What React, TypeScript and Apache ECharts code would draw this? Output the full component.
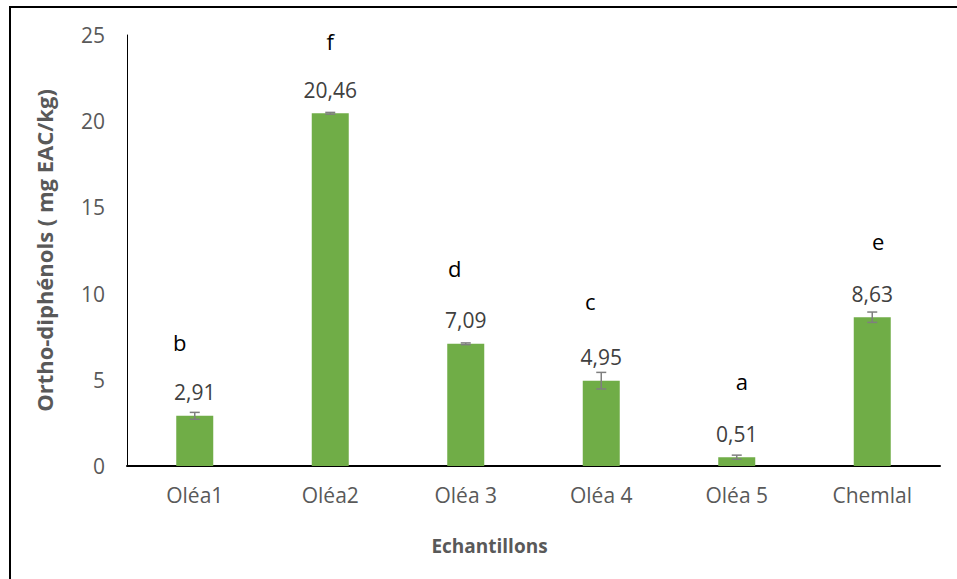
import React, { useEffect, useRef } from "react";
import * as echarts from "echarts";

// Ortho-diphenol content per olive-oil sample (mg EAC/kg)
const categories = ["Oléa1", "Oléa2", "Oléa 3", "Oléa 4", "Oléa 5", "Chemlal"];
const values = [2.91, 20.46, 7.09, 4.95, 0.51, 8.63];
const errors = [0.2, 0.05, 0.05, 0.48, 0.12, 0.3];
const groups = ["b", "f", "d", "c", "a", "e"];
const yTicks = { min: 0, max: 25, interval: 5 };

// hand-placed offsets of the group letters relative to each bar top (px)
const letterShift = [
  [-15, -74],
  [0, -72],
  [-11, -76],
  [-11, -80],
  [5, -76],
  [6, -76],
];

const FONT = "'Open Sans', 'Noto Sans', sans-serif";

export default function App() {
  const ref = useRef<HTMLDivElement>(null);

  useEffect(() => {
    if (!ref.current) return;
    const chart = echarts.init(ref.current, null, { renderer: "svg" });

    const errData = values.map((v, i) => [i, v, errors[i]]);

    chart.setOption({
      animation: false,
      backgroundColor: "#ffffff",
      textStyle: { fontFamily: FONT },
      grid: { left: 127, right: 17, top: 35, bottom: 113, containLabel: false },
      graphic: [
        {
          type: "rect",
          shape: { x: 10, y: 7, width: 980, height: 620 },
          style: { fill: "none", stroke: "#000000", lineWidth: 2 },
          silent: true,
          z: 100,
        },
      ],
      xAxis: {
        type: "category",
        data: categories,
        name: "Echantillons",
        nameLocation: "middle",
        nameGap: 70,
        nameTextStyle: {
          fontFamily: FONT,
          fontSize: 19,
          fontWeight: "bold",
          color: "#595959",
          padding: [0, 88, 0, 0],
        },
        axisLine: { show: true, lineStyle: { color: "#000000", width: 2 } },
        axisTick: { show: false },
        axisLabel: { color: "#595959", fontSize: 21, margin: 18, fontFamily: FONT },
        splitLine: { show: false },
      },
      yAxis: {
        type: "value",
        min: yTicks.min,
        max: yTicks.max,
        interval: yTicks.interval,
        name: "Ortho-diphénols ( mg EAC/kg)",
        nameLocation: "middle",
        nameGap: 72,
        nameTextStyle: { fontFamily: FONT, fontSize: 22, fontWeight: "bold", color: "#595959" },
        axisLine: { show: true, lineStyle: { color: "#000000", width: 1 } },
        axisTick: { show: false },
        axisLabel: { color: "#595959", fontSize: 21, margin: 22, fontFamily: FONT },
        splitLine: { show: false },
      },
      series: [
        {
          type: "bar",
          data: values,
          barWidth: 37,
          itemStyle: { color: "#70ad47" },
          label: {
            show: true,
            position: "top",
            distance: 13,
            color: "#404040",
            fontSize: 21,
            fontFamily: FONT,
            formatter: (p: any) => p.value.toFixed(2).replace(".", ","),
          },
          z: 2,
        },
        {
          type: "custom",
          data: errData,
          z: 5,
          renderItem: (params: any, api: any) => {
            const i = params.dataIndex;
            const idx = api.value(0);
            const v = api.value(1);
            const e = api.value(2);
            const top = api.coord([idx, v + e]);
            const bot = api.coord([idx, v - e]);
            const base = api.coord([idx, v]);
            const cap = 5;
            const st = { stroke: "#7f7f7f", lineWidth: 1.5 };
            return {
              type: "group",
              children: [
                { type: "line", shape: { x1: top[0], y1: top[1], x2: bot[0], y2: bot[1] }, style: st },
                { type: "line", shape: { x1: top[0] - cap, y1: top[1], x2: top[0] + cap, y2: top[1] }, style: st },
                { type: "line", shape: { x1: bot[0] - cap, y1: bot[1], x2: bot[0] + cap, y2: bot[1] }, style: st },
                {
                  type: "text",
                  x: base[0] + letterShift[i][0],
                  y: base[1] + letterShift[i][1],
                  style: {
                    text: groups[i],
                    fill: "#000000",
                    font: `22px ${FONT}`,
                    align: "center",
                    verticalAlign: "middle",
                  },
                },
              ],
            };
          },
        },
      ],
    });

    return () => chart.dispose();
  }, []);

  return (
    <div
      ref={ref}
      style={{ position: "fixed", left: 0, top: 0, width: 957, height: 579, background: "#fff" }}
    />
  );
}
